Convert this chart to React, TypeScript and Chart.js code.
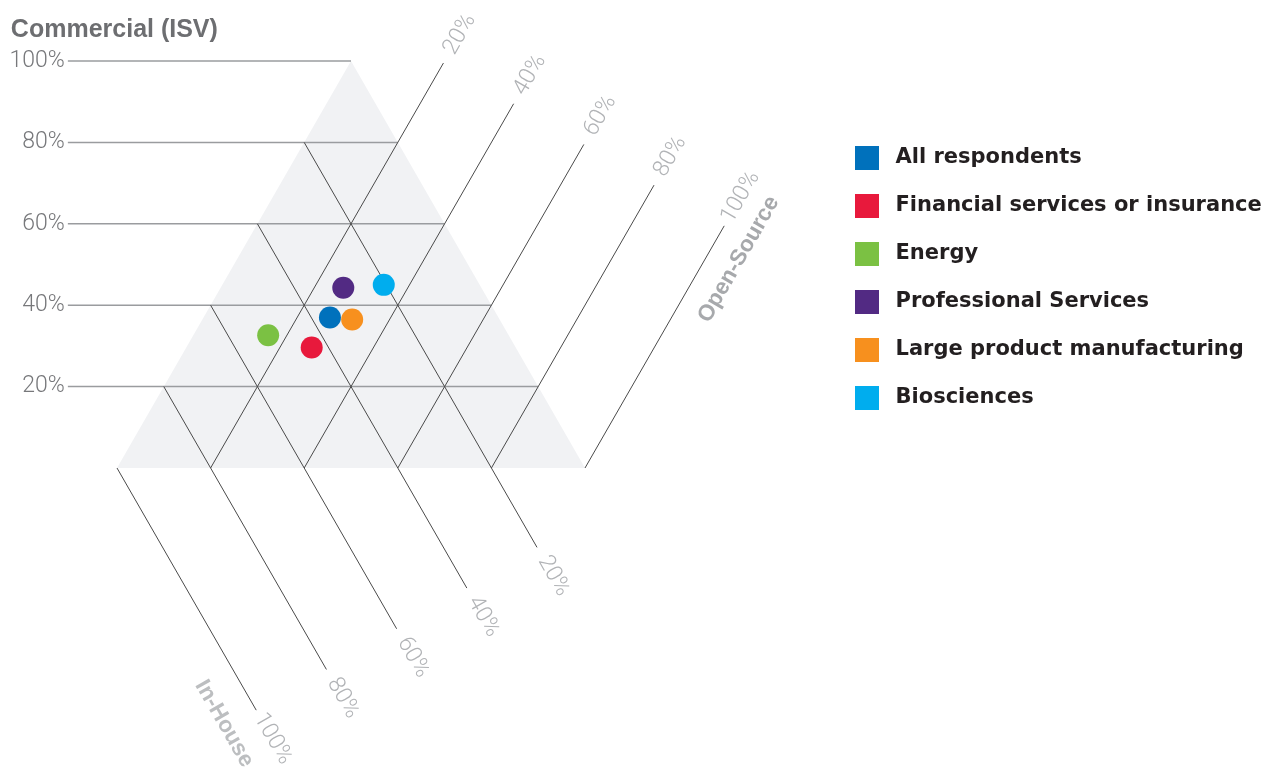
import React, { useEffect, useRef } from 'react';
import { Chart, registerables } from 'chart.js';

Chart.register(...registerables);

// ---- data (percentages, each row sums to 100) ----
const SEGMENTS = [
  'All respondents',
  'Financial services or insurance',
  'Energy',
  'Professional Services',
  'Large product manufacturing',
  'Biosciences',
];
const COMMERCIAL = [37, 29.6, 32.6, 44.3, 36.5, 45];
const OPEN_SOURCE = [27, 26.8, 16, 26.2, 32, 34.5];
const IN_HOUSE = [36, 43.6, 51.4, 29.5, 31.5, 20.5];
const COLORS = ['#0071bc', '#e8193c', '#7bc143', '#522a83', '#f7901e', '#00adee'];

const GRID_LEVELS = [20, 40, 60, 80, 100];
const TICK_LABELS = ['20%', '40%', '60%', '80%', '100%'];
const TITLE_COMMERCIAL = 'Commercial (ISV)';
const TITLE_OPEN = 'Open-Source';
const TITLE_INHOUSE = 'In-House';

// ---- layout constants ----
const EXT_C = 0.105;
const EXT_O = 0.095;
const EXT_I = 0.095;
const CANVAS_W = 1282;
const AREA_LEFT = 117;
const AREA_RIGHT = 822;
const SIDE_PX = 468;
const X_MAX = (AREA_RIGHT - AREA_LEFT) / SIDE_PX;
const LEGEND_FONT = { family: '"DejaVu Sans", sans-serif', size: 21, weight: 'bold' };
const LEGEND_PAD = 27;
const LEGEND_BOX_W = 36;

function swatch(color: string) {
  const c = document.createElement('canvas');
  c.width = 24;
  c.height = 24;
  const g = c.getContext('2d')!;
  g.fillStyle = color;
  g.fillRect(0, 0, 24, 24);
  return c;
}

const ternaryPlugin = {
  id: 'ternaryGrid',
  beforeDatasetsDraw(chart: any) {
    const { ctx } = chart;
    const xs = chart.scales.x;
    const ys = chart.scales.y;
    const P = (c: number, o: number) => ({ x: xs.getPixelForValue(o + c / 2), y: ys.getPixelForValue(c) });
    const line = (a: any, b: any) => {
      ctx.beginPath();
      ctx.moveTo(a.x, a.y);
      ctx.lineTo(b.x, b.y);
      ctx.stroke();
    };
    const unit = (a: any, b: any) => {
      const dx = b.x - a.x;
      const dy = b.y - a.y;
      const l = Math.hypot(dx, dy);
      return { x: dx / l, y: dy / l };
    };
    const rotText = (text: string, p: any, angle: number, align: string) => {
      ctx.save();
      ctx.translate(p.x, p.y);
      ctx.rotate(angle);
      ctx.textAlign = align;
      ctx.textBaseline = 'middle';
      ctx.fillText(text, 0, 0);
      ctx.restore();
    };

    ctx.save();
    // triangle background
    const apex = P(1, 0);
    const left = P(0, 0);
    const right = P(0, 1);
    ctx.fillStyle = '#f1f2f4';
    ctx.beginPath();
    ctx.moveTo(apex.x, apex.y);
    ctx.lineTo(left.x, left.y);
    ctx.lineTo(right.x, right.y);
    ctx.closePath();
    ctx.fill();

    // Commercial (horizontal) lines
    ctx.strokeStyle = '#9a9c9f';
    ctx.lineWidth = 1.5;
    ctx.font = '300 23px Roboto';
    ctx.fillStyle = '#77787b';
    let c100: any = null;
    GRID_LEVELS.forEach((lv, k) => {
      const f = lv / 100;
      const a = P(f, -(EXT_C + f / 2));
      const b = P(f, 1 - f);
      line(a, b);
      ctx.textAlign = 'right';
      ctx.textBaseline = 'middle';
      ctx.fillText(TICK_LABELS[k], a.x - 3, a.y);
      if (lv === 100) c100 = a;
    });

    // Open-Source lines (parallel to left edge) and In-House lines (parallel to right edge)
    ctx.strokeStyle = '#4a4a4a';
    ctx.lineWidth = 1;
    let o100: any = null;
    let i100: any = null;
    GRID_LEVELS.forEach((lv, k) => {
      const f = lv / 100;
      // open-source
      const oa = P(0, f);
      const ob = P(1 + EXT_O - f / 2, f);
      line(oa, ob);
      const od = unit(oa, ob);
      ctx.font = '300 23px Roboto';
      ctx.fillStyle = '#b1b3b6';
      rotText(TICK_LABELS[k], { x: ob.x + od.x * 33, y: ob.y + od.y * 33 }, Math.atan2(od.y, od.x), 'center');
      // in-house
      const ia = P(1 - f, 0);
      const cEnd = -(EXT_I + f / 2);
      const ib = P(cEnd, 1 - f - cEnd);
      line(ia, ib);
      const id = unit(ia, ib);
      rotText(TICK_LABELS[k], { x: ib.x + id.x * 33, y: ib.y + id.y * 33 }, Math.atan2(id.y, id.x), 'center');
      if (lv === 100) {
        o100 = { end: ob, dir: od };
        i100 = { end: ib, dir: id };
      }
    });

    // axis titles
    ctx.font = 'bold 25px "Liberation Sans", Arial, sans-serif';
    ctx.fillStyle = '#6d6e71';
    ctx.textAlign = 'left';
    ctx.textBaseline = 'alphabetic';
    ctx.fillText(TITLE_COMMERCIAL, c100.x - 57, c100.y - 24.3);

    ctx.font = 'bold 22.5px "Liberation Sans", Arial, sans-serif';
    ctx.fillStyle = '#a7a9ac';
    rotText(TITLE_OPEN, { x: o100.end.x + 14.5, y: o100.end.y + 33.5 }, Math.atan2(o100.dir.y, o100.dir.x), 'center');
    ctx.fillStyle = '#bcbec0';
    rotText(TITLE_INHOUSE, { x: i100.end.x - 32, y: i100.end.y + 13.5 }, Math.atan2(i100.dir.y, i100.dir.x), 'center');

    ctx.restore();
  },
};

export default function App() {
  const ref = useRef<HTMLCanvasElement | null>(null);

  useEffect(() => {
    if (!ref.current) return;
    const datasets = SEGMENTS.map((name, i) => {
      const s = COMMERCIAL[i] + OPEN_SOURCE[i] + IN_HOUSE[i];
      return {
        label: name,
        data: [{ x: (OPEN_SOURCE[i] + COMMERCIAL[i] / 2) / s, y: COMMERCIAL[i] / s }],
        backgroundColor: COLORS[i],
        borderColor: COLORS[i],
        borderWidth: 0,
        pointRadius: 11,
        pointHoverRadius: 11,
      };
    });

    // natural legend width, so the legend's left edge (and thus the plot area) lands where wanted
    const mctx = document.createElement('canvas').getContext('2d')!;
    mctx.font = `${LEGEND_FONT.weight} ${LEGEND_FONT.size}px ${LEGEND_FONT.family}`;
    const maxText = Math.max(...SEGMENTS.map((s) => mctx.measureText(s).width));
    const legendW = LEGEND_PAD + LEGEND_BOX_W + LEGEND_FONT.size / 2 + maxText + 10;
    const padRight = CANVAS_W - AREA_RIGHT - legendW;

    const chart = new Chart(ref.current, {
      type: 'scatter',
      data: { datasets },
      options: {
        animation: false,
        responsive: true,
        maintainAspectRatio: false,
        layout: { padding: { left: AREA_LEFT, top: 61, right: padRight, bottom: 308 } },
        scales: {
          x: { type: 'linear', min: 0, max: X_MAX, display: false },
          y: { type: 'linear', min: 0, max: 1, display: false },
        },
        plugins: {
          tooltip: { enabled: false },
          legend: {
            position: 'right',
            align: 'start',
            title: { display: true, text: '', font: { size: 10, lineHeight: 1 }, padding: { top: 49.5, bottom: 0 } },
            labels: {
              usePointStyle: true,
              pointStyleWidth: LEGEND_BOX_W,
              padding: LEGEND_PAD,
              color: '#231f20',
              font: LEGEND_FONT,
              generateLabels: (ch: any) =>
                ch.data.datasets.map((ds: any, i: number) => ({
                  text: ds.label,
                  fillStyle: COLORS[i],
                  strokeStyle: COLORS[i],
                  lineWidth: 0,
                  pointStyle: swatch(COLORS[i]),
                  hidden: !ch.isDatasetVisible(i),
                  datasetIndex: i,
                  fontColor: '#231f20',
                })),
            },
          },
        },
      } as any,
      plugins: [ternaryPlugin],
    });
    return () => chart.destroy();
  }, []);

  return (
    <div style={{ position: 'fixed', left: 0, top: 0, width: CANVAS_W, height: 776, background: '#fff' }}>
      <canvas ref={ref} />
    </div>
  );
}
